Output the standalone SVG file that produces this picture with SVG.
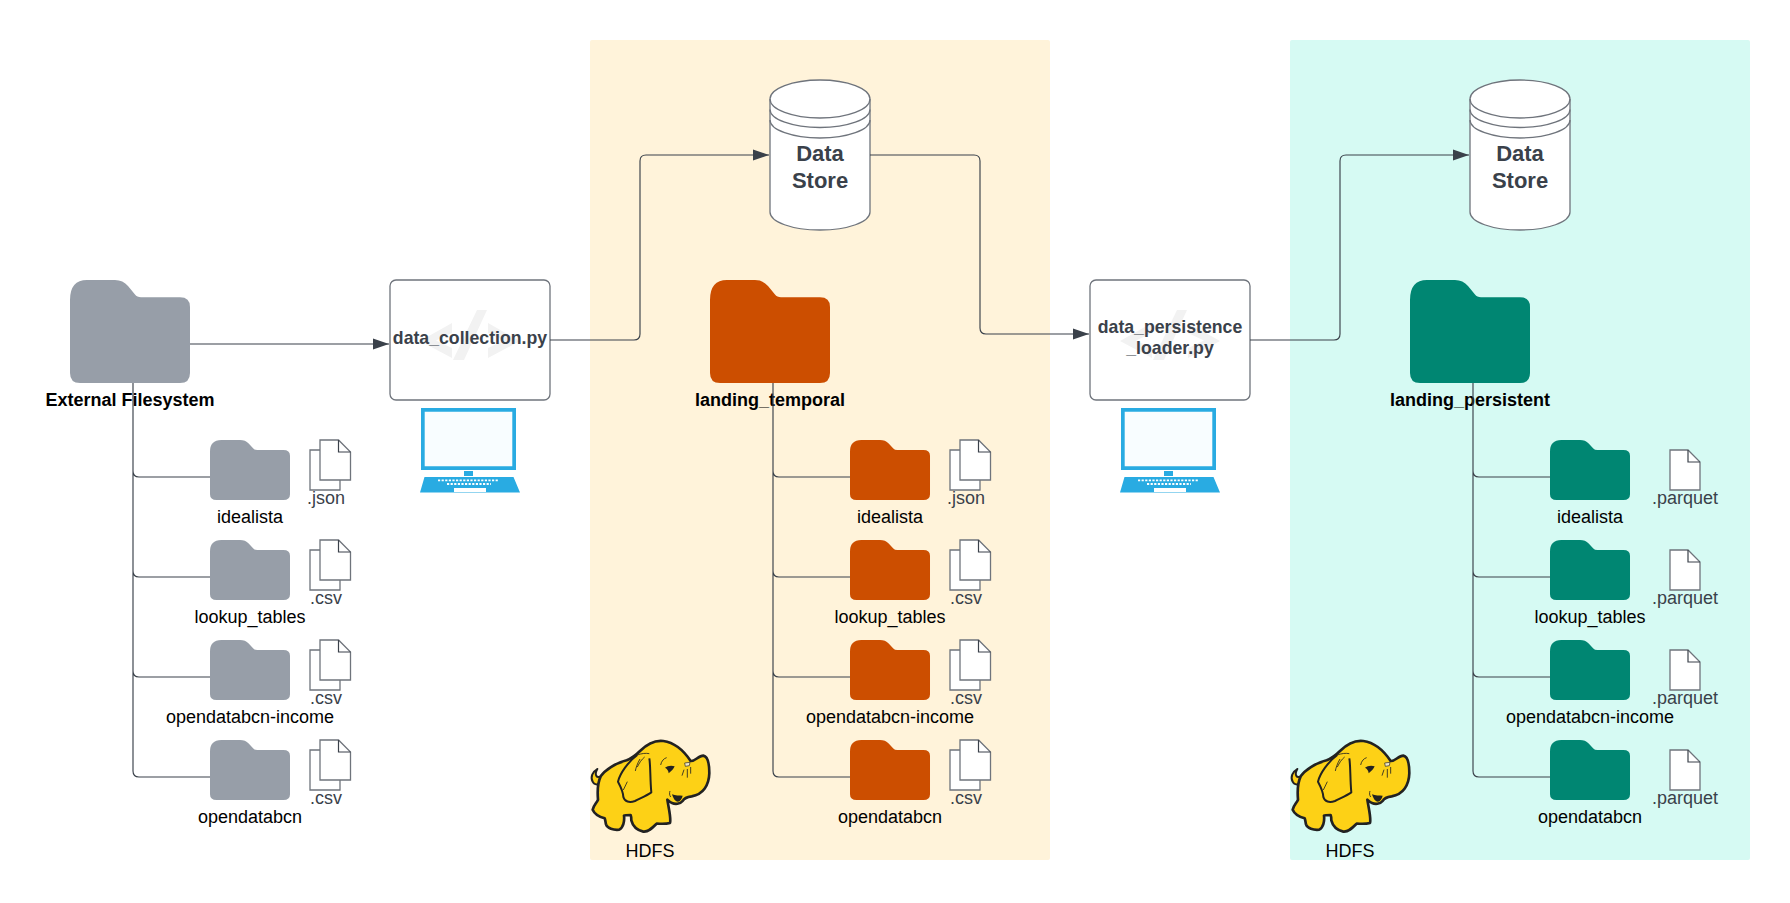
<svg xmlns="http://www.w3.org/2000/svg" width="1790" height="903" viewBox="0 0 1790 903">
<style>
text{font-family:"Liberation Sans",Arial,sans-serif;font-size:18px;text-anchor:middle;fill:#000}
.b{font-weight:700}
.d{fill:#3a414a}
.h{font-size:22px}
.m{font-size:17.700px}
.grey{fill:#979ea8}.orange{fill:#cc4e00}.teal{fill:#008672}
.box{fill:#fff;stroke:#6f747c;stroke-width:1.3}
.doc{fill:#fff;stroke:#6f747c;stroke-width:1.3}
.fold{fill:none;stroke:#3a414a;stroke-width:1.2}
.con{fill:none;stroke:#3a414a;stroke-width:1.15}
</style>
<defs>
<marker id="arrow" markerUnits="userSpaceOnUse" markerWidth="17" markerHeight="12" refX="16" refY="6" orient="auto"><path d="M0,.5L16,6L0,11.5Z" fill="#3a414a"/></marker>
<path id="folder" d="M0,20Q0,0 17,0L45,0Q53,0 58,6L65,14.5Q67,17.3 71,17.3L110,17.3Q120,17.3 120,27L120,93Q120,103 110,103L10,103Q0,103 0,93Z"/>
<g id="dbl"><path class="doc" d="M0,10H30V50H0Z"/><path class="doc" d="M10,0H28.500L40.500,12V40H10Z"/><path class="fold" d="M28.500,0V12H40.500"/></g>
<g id="sgl"><path class="doc" d="M0,0H18L30,12V40H0Z"/><path class="fold" d="M18,0V12H30"/></g>
<g id="cyl"><path class="box" d="M0,19A50,19 0 0 1 100,19V132C100,142 78,150 50,150C22,150 0,142 0,132Z"/><path class="box" style="fill:none" d="M0,19A50,19 0 0 0 100,19M0,29.500A50,18 0 0 0 100,29.500M0,40A50,18 0 0 0 100,40"/></g>
<g id="code"><path fill="#f2f2f2" d="M62,43V53L46,60.500L62,68V78L30,61ZM98,43L130,61L98,78V68L114,60.500L98,53ZM87,30H97L74,80H63Z"/></g>
<g id="laptop"><path fill="#29abe2" d="M0,0H95V62H0Z"/><path fill="#f8fdff" d="M3.700,3.700H91.300V58.300H3.700Z"/><path fill="#29abe2" d="M43,63H52V68H43ZM3.500,69H92.500L99,84.500H-1Z"/><path fill="#fff" d="M33,80H65V84H33Z"/><path fill="none" stroke="#fff" stroke-width="1.800" stroke-dasharray="2.200 1.400" d="M17,72.300H78M26,76H70"/></g>
<g id="elephant" transform="scale(.3333)">
<path d="M32,124C20,130 12,120 22,102C8,110 0,126 8,140C14,152 28,150 32,140Z" fill="#fdd116" stroke="#222" stroke-width="6" stroke-linejoin="round"/>
<path d="M150,48C170,28 195,15 220,18C250,22 280,45 302,78C315,80 325,62 340,62C352,64 358,85 358,115C357,150 340,178 305,184C290,186 282,190 278,198C270,208 255,208 246,204C240,202 236,198 232,194C236,220 244,250 240,264C225,268 212,266 200,266C188,278 175,292 160,290C140,285 128,272 124,256C124,248 124,244 122,240C112,240 105,240 102,242C104,258 100,278 88,284C70,286 52,280 48,268C46,260 46,254 44,250C30,246 14,238 8,224C10,212 20,204 24,194C22,170 22,145 32,124C45,105 75,85 110,76C125,70 138,60 150,48Z" fill="#fdd116" stroke="#222" stroke-width="8" stroke-linejoin="round"/>
<path d="M142,60C155,55 168,54 176,58C182,85 180,130 184,172C170,182 150,190 135,198C118,204 104,200 100,186C100,170 92,155 84,140C90,115 115,80 142,60Z" fill="#fdd116"/>
<path d="M178,70C182,95 180,130 184,172C170,182 150,190 135,198C118,204 104,200 100,186C100,170 92,155 84,140C90,115 115,80 142,60" fill="none" stroke="#222" stroke-width="6" stroke-linejoin="round"/>
<path d="M142,60C155,55 168,54 178,56" fill="none" stroke="#222" stroke-width="2.500"/>
<path d="M225,98C232,92 245,90 254,94C250,102 245,108 236,115C236,108 232,102 225,98Z" fill="#222"/>
<path d="M246,178C250,190 255,200 264,200C272,198 276,190 278,182C268,182 256,182 246,178Z" fill="#222"/>
<path d="M284,84L300,82L298,92L286,94Z" fill="#efe7c8" stroke="#222" stroke-width="2"/>
<path d="M212,90C214,78 222,70 230,68M282,104L276,122M292,102L292,128M302,96L302,116M240,168C238,174 238,180 242,186M150,72C142,85 138,98 136,108M164,66C154,74 148,84 142,96M112,140L100,165" fill="none" stroke="#222" stroke-width="2.500"/>
</g>
</defs>

<g id="panel-temporal"><rect x="590" y="40" width="460" height="820" rx="2" fill="#fff3da"/></g>
<g id="panel-persistent"><rect x="1290" y="40" width="460" height="820" rx="2" fill="#d6faf3"/></g>

<g id="external-filesystem"><use href="#folder" class="grey" transform="translate(70,280)"/><text class="b" x="130" y="406">External Filesystem</text></g>
<g id="ext-idealista"><use href="#folder" class="grey" transform="translate(210,440) scale(.6667,.5825)"/><text x="250" y="523">idealista</text></g>
<g id="ext-idealista-file"><use href="#dbl" transform="translate(310,440)"/><text class="d" x="326" y="504">.json</text></g>
<g id="ext-lookup"><use href="#folder" class="grey" transform="translate(210,540) scale(.6667,.5825)"/><text x="250" y="623">lookup_tables</text></g>
<g id="ext-lookup-file"><use href="#dbl" transform="translate(310,540)"/><text class="d" x="326" y="604">.csv</text></g>
<g id="ext-income"><use href="#folder" class="grey" transform="translate(210,640) scale(.6667,.5825)"/><text x="250" y="723">opendatabcn-income</text></g>
<g id="ext-income-file"><use href="#dbl" transform="translate(310,640)"/><text class="d" x="326" y="704">.csv</text></g>
<g id="ext-open"><use href="#folder" class="grey" transform="translate(210,740) scale(.6667,.5825)"/><text x="250" y="823">opendatabcn</text></g>
<g id="ext-open-file"><use href="#dbl" transform="translate(310,740)"/><text class="d" x="326" y="804">.csv</text></g>

<g id="data-collection"><rect class="box" x="390" y="280" width="160" height="120" rx="6"/><use href="#code" transform="translate(390,280)"/><text class="b d m" x="470" y="344">data_collection.py</text></g>
<g id="laptop-1"><use href="#laptop" transform="translate(421,408)"/></g>

<g id="store-temporal"><use href="#cyl" transform="translate(770,80)"/><text class="b d h" x="820" y="161">Data</text><text class="b d h" x="820" y="187.500">Store</text></g>
<g id="landing-temporal"><use href="#folder" class="orange" transform="translate(710,280)"/><text class="b" x="770" y="406">landing_temporal</text></g>
<g id="tmp-idealista"><use href="#folder" class="orange" transform="translate(850,440) scale(.6667,.5825)"/><text x="890" y="523">idealista</text></g>
<g id="tmp-idealista-file"><use href="#dbl" transform="translate(950,440)"/><text class="d" x="966" y="504">.json</text></g>
<g id="tmp-lookup"><use href="#folder" class="orange" transform="translate(850,540) scale(.6667,.5825)"/><text x="890" y="623">lookup_tables</text></g>
<g id="tmp-lookup-file"><use href="#dbl" transform="translate(950,540)"/><text class="d" x="966" y="604">.csv</text></g>
<g id="tmp-income"><use href="#folder" class="orange" transform="translate(850,640) scale(.6667,.5825)"/><text x="890" y="723">opendatabcn-income</text></g>
<g id="tmp-income-file"><use href="#dbl" transform="translate(950,640)"/><text class="d" x="966" y="704">.csv</text></g>
<g id="tmp-open"><use href="#folder" class="orange" transform="translate(850,740) scale(.6667,.5825)"/><text x="890" y="823">opendatabcn</text></g>
<g id="tmp-open-file"><use href="#dbl" transform="translate(950,740)"/><text class="d" x="966" y="804">.csv</text></g>
<g id="hdfs-1"><use href="#elephant" transform="translate(590,735)"/><text x="650" y="857">HDFS</text></g>

<g id="data-persistence"><rect class="box" x="1090" y="280" width="160" height="120" rx="6"/><use href="#code" transform="translate(1090,280)"/><text class="b d m" x="1170" y="333">data_persistence</text><text class="b d m" x="1170" y="354">_loader.py</text></g>
<g id="laptop-2"><use href="#laptop" transform="translate(1121,408)"/></g>

<g id="store-persistent"><use href="#cyl" transform="translate(1470,80)"/><text class="b d h" x="1520" y="161">Data</text><text class="b d h" x="1520" y="187.500">Store</text></g>
<g id="landing-persistent"><use href="#folder" class="teal" transform="translate(1410,280)"/><text class="b" x="1470" y="406">landing_persistent</text></g>
<g id="per-idealista"><use href="#folder" class="teal" transform="translate(1550,440) scale(.6667,.5825)"/><text x="1590" y="523">idealista</text></g>
<g id="per-idealista-file"><use href="#sgl" transform="translate(1670,450)"/><text class="d" x="1685" y="504">.parquet</text></g>
<g id="per-lookup"><use href="#folder" class="teal" transform="translate(1550,540) scale(.6667,.5825)"/><text x="1590" y="623">lookup_tables</text></g>
<g id="per-lookup-file"><use href="#sgl" transform="translate(1670,550)"/><text class="d" x="1685" y="604">.parquet</text></g>
<g id="per-income"><use href="#folder" class="teal" transform="translate(1550,640) scale(.6667,.5825)"/><text x="1590" y="723">opendatabcn-income</text></g>
<g id="per-income-file"><use href="#sgl" transform="translate(1670,650)"/><text class="d" x="1685" y="704">.parquet</text></g>
<g id="per-open"><use href="#folder" class="teal" transform="translate(1550,740) scale(.6667,.5825)"/><text x="1590" y="823">opendatabcn</text></g>
<g id="per-open-file"><use href="#sgl" transform="translate(1670,750)"/><text class="d" x="1685" y="804">.parquet</text></g>
<g id="hdfs-2"><use href="#elephant" transform="translate(1290,735)"/><text x="1350" y="857">HDFS</text></g>

<g id="connectors">
<path class="con" marker-end="url(#arrow)" d="M190,344H389"/>
<path class="con" marker-end="url(#arrow)" d="M550,340H634Q640,340 640,334V161Q640,155 646,155H769"/>
<path class="con" marker-end="url(#arrow)" d="M870,155H974Q980,155 980,161V328Q980,334 986,334H1089"/>
<path class="con" marker-end="url(#arrow)" d="M1250,340H1334Q1340,340 1340,334V161Q1340,155 1346,155H1469"/>
<path class="con" d="M133,383V471Q133,477 139,477H210M133,471V571Q133,577 139,577H210M133,571V671Q133,677 139,677H210M133,671V771Q133,777 139,777H210"/>
<path class="con" d="M773,383V471Q773,477 779,477H850M773,471V571Q773,577 779,577H850M773,571V671Q773,677 779,677H850M773,671V771Q773,777 779,777H850"/>
<path class="con" d="M1473,383V471Q1473,477 1479,477H1550M1473,471V571Q1473,577 1479,577H1550M1473,571V671Q1473,677 1479,677H1550M1473,671V771Q1473,777 1479,777H1550"/>
</g>
</svg>
